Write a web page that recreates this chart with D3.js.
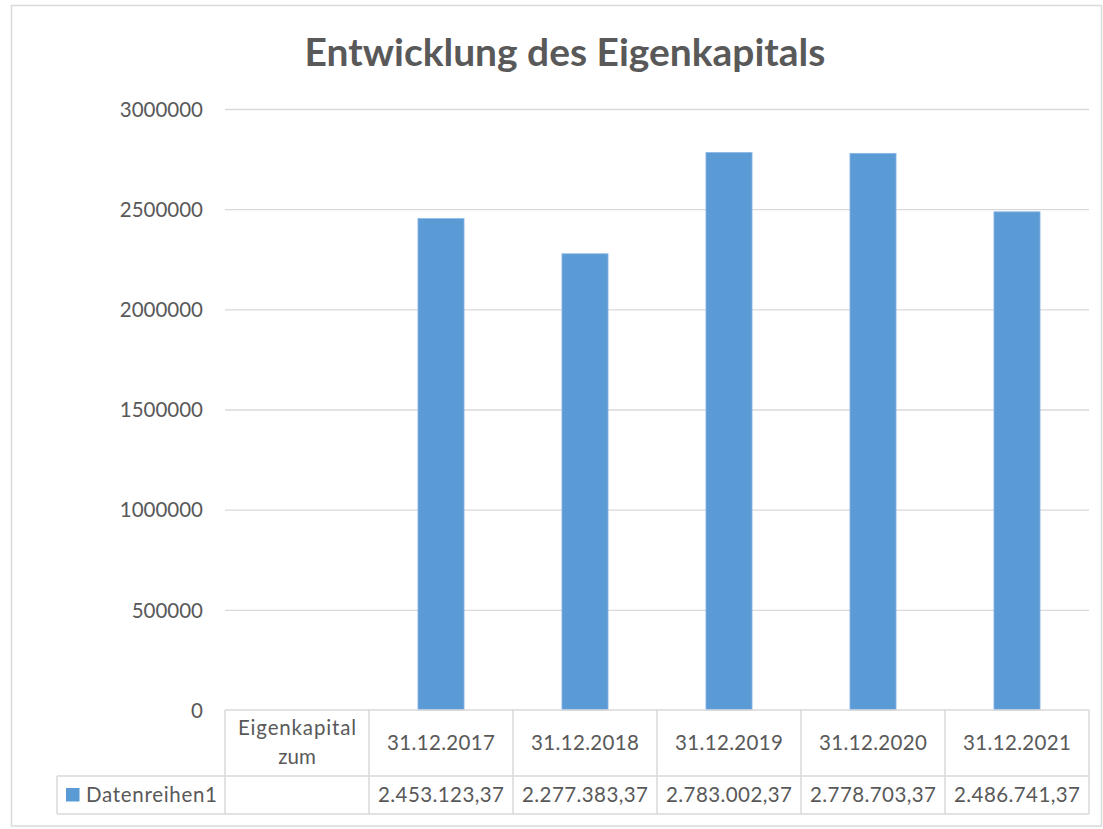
<!DOCTYPE html>
<html>
<head>
<meta charset="utf-8">
<script src="https://cdn.jsdelivr.net/npm/d3@7"></script>
<style>
  html, body { margin: 0; padding: 0; background: #fff; }
  svg { display: block; font-family: Lato, "Open Sans", sans-serif; }
</style>
</head>
<body>
<svg id="chart" width="1103" height="829"></svg>
<script>
// ---- data ----
const title = "Entwicklung des Eigenkapitals";
const categories = ["Eigenkapital zum", "31.12.2017", "31.12.2018", "31.12.2019", "31.12.2020", "31.12.2021"];
const headerLines = [["Eigenkapital", "zum"], ["31.12.2017"], ["31.12.2018"], ["31.12.2019"], ["31.12.2020"], ["31.12.2021"]];
const seriesName = "Datenreihen1";
const values = [null, 2453123.37, 2277383.37, 2783002.37, 2778703.37, 2486741.37];
const yTicks = [0, 500000, 1000000, 1500000, 2000000, 2500000, 3000000];

// ---- layout ----
const plot = { left: 225, right: 1089, top: 109, bottom: 710 };
const table = { top: 710, mid: 776, bottom: 814, legendLeft: 57 };
const textColor = "#595959", gridColor = "#D9D9D9", barColor = "#5B9BD5";
const fs = 20.5;

const de = d3.formatLocale({ decimal: ",", thousands: ".", grouping: [3], currency: ["", " €"] });
const fmtVal = de.format(",.2f");

const svg = d3.select("#chart");

// outer border
svg.append("rect").attr("x", 11.5).attr("y", 5.5).attr("width", 1090).attr("height", 820.5)
  .attr("fill", "#fff").attr("stroke", gridColor).attr("stroke-width", 1.5);

const x = d3.scaleBand().domain(categories).range([plot.left, plot.right])
  .paddingInner(0.68).paddingOuter(0.34);
const y = d3.scaleLinear().domain([0, 3000000]).range([plot.bottom, plot.top]);

// helpers
function fit(sel, targetWidth, baseSize) {
  sel.attr("font-size", baseSize);
  const w = sel.node().getComputedTextLength();
  sel.attr("font-size", baseSize * targetWidth / w);
}
function spread(sel, targetWidth, centered) {
  const node = sel.node();
  const w = node.getComputedTextLength();
  const n = sel.text().length;
  const ls = Math.max(0, (targetWidth - w) / Math.max(1, n - 1));
  sel.attr("letter-spacing", ls);
  if (centered) sel.attr("x", +sel.attr("x") + ls / 2);
}

// title
const t = svg.append("text").attr("x", 565).attr("y", 66).attr("text-anchor", "middle")
  .attr("font-weight", "bold").attr("fill", textColor).text(title);
fit(t, 521, 32);

// gridlines via axis
const yAxis = d3.axisLeft(y).tickValues(yTicks).tickSize(-(plot.right - plot.left)).tickPadding(22)
  .tickFormat(d3.format("d"));
const gy = svg.append("g").attr("transform", `translate(${plot.left},0)`).call(yAxis);
gy.select(".domain").remove();
gy.selectAll(".tick line").attr("stroke", gridColor).attr("stroke-width", 1.3)
  .filter(d => d === 0).remove();
gy.selectAll(".tick text").attr("fill", textColor).attr("font-size", fs)
  .attr("font-family", "Lato, 'Open Sans', sans-serif").attr("dy", "0.35em");

// bars
svg.append("g").selectAll("rect")
  .data(categories.map((c, i) => ({ c, v: values[i] })).filter(d => d.v != null))
  .join("rect")
  .attr("x", d => x(d.c)).attr("width", x.bandwidth())
  .attr("y", d => y(d.v)).attr("height", d => y(0) - y(d.v))
  .attr("fill", barColor).attr("stroke", "#8DB8E6").attr("stroke-width", 0.8);

// data table
const cellLeft = c => x(c) - x.step() * x.paddingInner() / 2;
const gt = svg.append("g").attr("stroke", gridColor).attr("stroke-width", 1.5).attr("fill", "none");
gt.append("line").attr("x1", plot.left).attr("x2", plot.right).attr("y1", table.top).attr("y2", table.top);
gt.append("line").attr("x1", table.legendLeft).attr("x2", plot.right).attr("y1", table.mid).attr("y2", table.mid);
gt.append("line").attr("x1", table.legendLeft).attr("x2", plot.right).attr("y1", table.bottom).attr("y2", table.bottom);
gt.append("line").attr("x1", table.legendLeft).attr("x2", table.legendLeft).attr("y1", table.mid).attr("y2", table.bottom);
const bounds = categories.map(cellLeft).concat([plot.right]);
gt.selectAll("line.v").data(bounds).join("line").attr("class", "v")
  .attr("x1", d => d).attr("x2", d => d).attr("y1", table.top).attr("y2", table.bottom);

// header texts
const cx = c => x(c) + x.bandwidth() / 2;
const hg = svg.append("g").attr("fill", textColor).attr("font-size", fs).attr("text-anchor", "middle");
categories.forEach((c, i) => {
  const lines = headerLines[i];
  const midY = (table.top + table.mid) / 2 - 0.5;
  lines.forEach((ln, j) => {
    const yy = midY + (j - (lines.length - 1) / 2) * 29;
    const tx = hg.append("text").attr("x", cx(c)).attr("y", yy).attr("dy", "0.35em").text(ln);
    spread(tx, lines.length > 1 ? (j === 0 ? 118 : 36) : 108, true);
  });
});

// value row
const vg = svg.append("g").attr("fill", textColor).attr("font-size", fs).attr("text-anchor", "middle");
categories.forEach((c, i) => {
  if (values[i] == null) return;
  const tx = vg.append("text").attr("x", cx(c)).attr("y", (table.mid + table.bottom) / 2 - 0.5).attr("dy", "0.35em")
    .text(fmtVal(values[i]));
  spread(tx, 126, true);
});

// legend key in table
svg.append("rect").attr("x", 66).attr("y", 788).attr("width", 13.5).attr("height", 13.5).attr("fill", barColor);
const lt = svg.append("text").attr("x", 86).attr("y", (table.mid + table.bottom) / 2 - 0.5).attr("dy", "0.35em")
  .attr("fill", textColor).attr("font-size", fs).text(seriesName);
spread(lt, 131, false);
</script>
</body>
</html>
